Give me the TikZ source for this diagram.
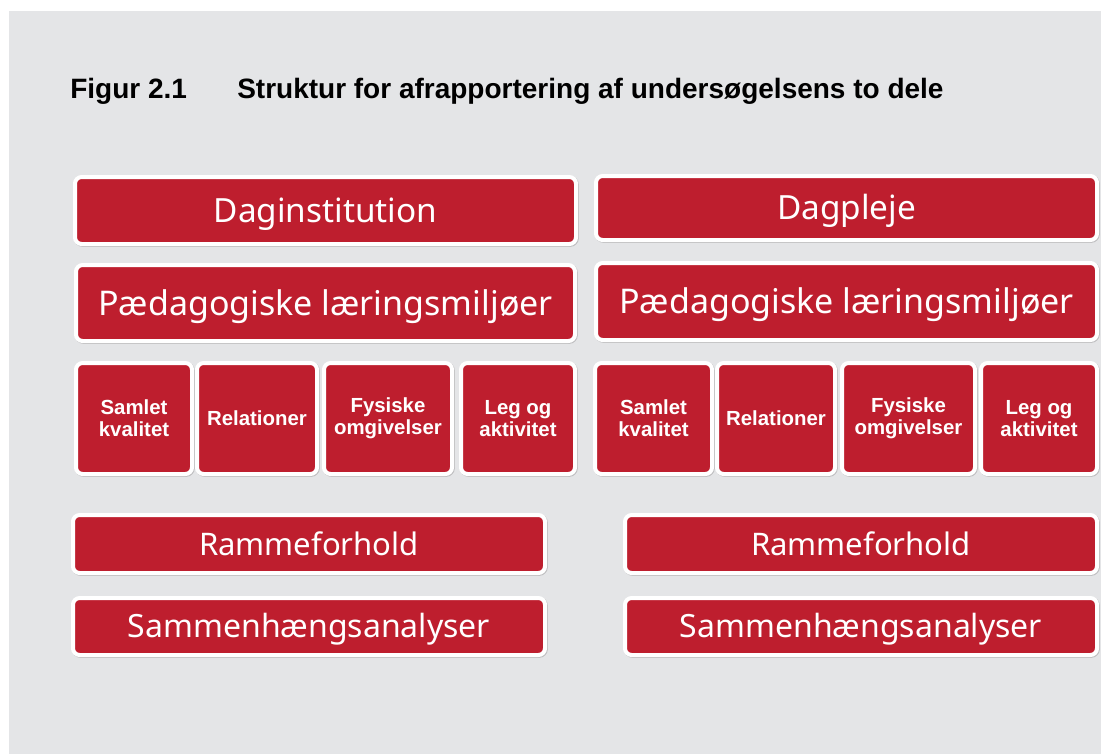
\documentclass[tikz,border=0pt]{standalone}
\usepackage{fontspec}
\setmainfont{Noto Sans}
\newfontfamily\titlefont{Liberation Sans}
\definecolor{bg}{RGB}{228,229,231}
\definecolor{boxred}{RGB}{190,30,46}
\definecolor{shadowgray}{RGB}{190,190,192}
\tikzset{
  redbox/.style={draw=white, line width=3pt, fill=boxred, rounded corners=5pt,
    inner sep=0pt, text=white, align=center,
    preaction={draw=shadowgray, line width=3pt, transform canvas={shift={(0.6pt,-0.6pt)}}}},
  bigtxt/.style={text height=17.85pt, text depth=0pt, font=\fontsize{25}{30}\selectfont},
  pedtxt/.style={text height=18.2pt, text depth=0pt, font=\fontsize{25.5}{30}\selectfont},
  ramtxt/.style={text height=16.6pt, text depth=0pt, font=\fontsize{23.3}{28}\selectfont},
  samtxt/.style={text height=17.1pt, text depth=0pt, font=\fontsize{24}{28}\selectfont},
  smalltxt/.style={font=\titlefont\bfseries\fontsize{15.3}{16.5}\selectfont},
  titletxt/.style={font=\titlefont\bfseries\fontsize{21}{25}\selectfont, anchor=base west, inner sep=0pt}
}
\newcommand\rbox[7]{% name, x1, y1, x2, y2, style, text
  \node[redbox,#6, minimum width={(#4-#2+4)*0.75pt}, minimum height={(#5-#3+4)*0.75pt}]
    (#1) at ({(#2+#4)/2},{(#3+#5)/2}) {#7};}
\begin{document}
\begin{tikzpicture}[x=0.75pt,y=-0.75pt]
\useasboundingbox (0,0) rectangle (1101,754);
\fill[white] (0,0) rectangle (1101,754);
\fill[bg] (9,11) rectangle (1101,754);
\node[titletxt] (fig) at (70,98) {Figur 2.1};
\node[titletxt] (title) at (237,98) {Struktur for afrapportering af undersøgelsens to dele};
% left column
\rbox{dag}{77}{179}{574}{242}{bigtxt}{Daginstitution}
\rbox{pl}{78}{267}{573}{339}{pedtxt}{Pædagogiske læringsmiljøer}
\rbox{l1}{78}{365}{190}{472}{smalltxt}{Samlet\\kvalitet}
\rbox{l2}{199}{365}{315}{472}{smalltxt}{Relationer}
\rbox{l3}{326}{365}{450}{472}{smalltxt}{Fysiske\\omgivelser}
\rbox{l4}{463}{365}{573}{472}{smalltxt}{Leg og\\aktivitet}
\rbox{rl}{75}{517}{543}{571}{ramtxt}{Rammeforhold}
\rbox{sl}{75}{600}{543}{653}{samtxt}{Sammenhængsanalyser}
% right column
\rbox{dp}{598}{178}{1095}{238}{bigtxt}{Dagpleje}
\rbox{pr}{598}{265}{1095}{338}{pedtxt}{Pædagogiske læringsmiljøer}
\rbox{r1}{597}{365}{710}{472}{smalltxt}{Samlet\\kvalitet}
\rbox{r2}{719}{365}{833}{472}{smalltxt}{Relationer}
\rbox{r3}{844}{365}{973}{472}{smalltxt}{Fysiske\\omgivelser}
\rbox{r4}{983}{365}{1095}{472}{smalltxt}{Leg og\\aktivitet}
\rbox{rr}{627}{517}{1095}{571}{ramtxt}{Rammeforhold}
\rbox{sr}{627}{600}{1095}{653}{samtxt}{Sammenhængsanalyser}
\end{tikzpicture}
\end{document}
